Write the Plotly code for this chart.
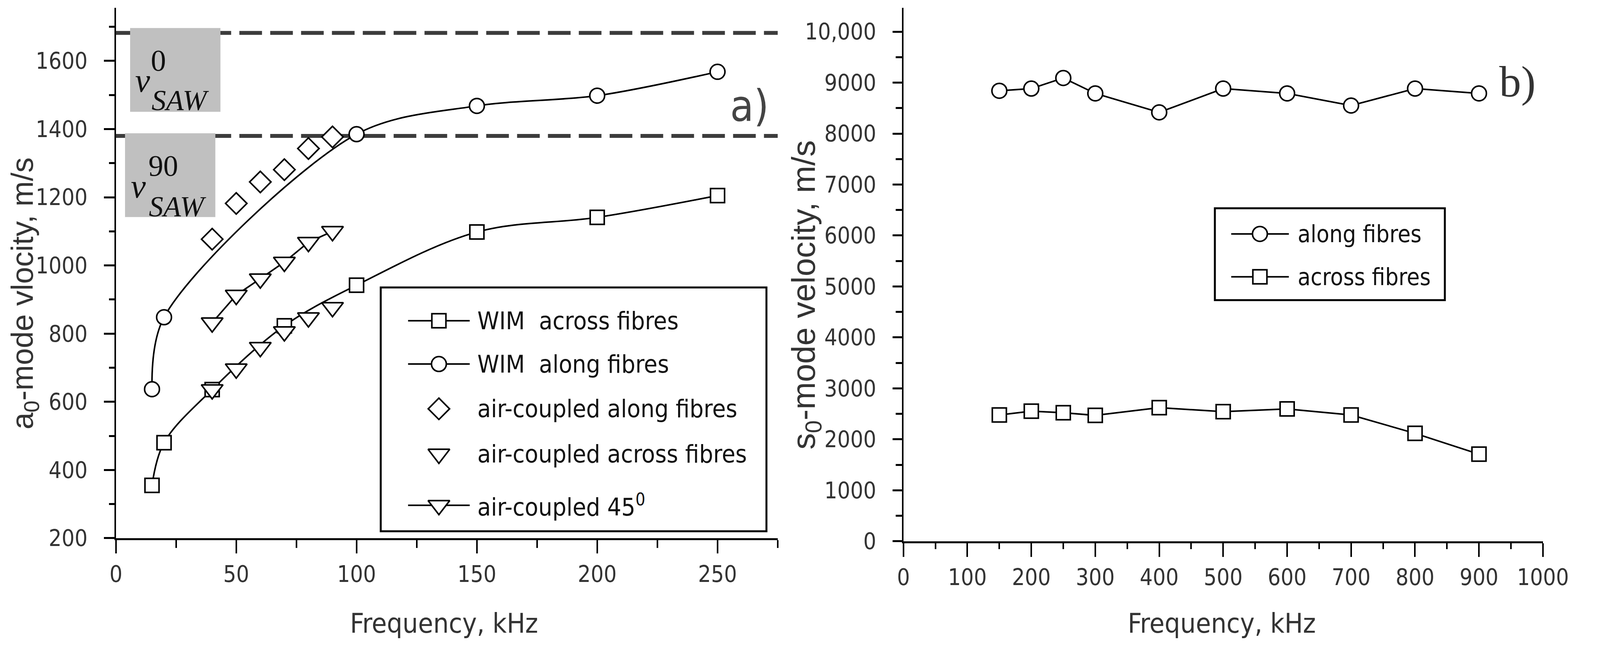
import plotly.graph_objects as go

# reference picture size; positions below are measured on it
W, H = 5814, 1695
# the page is laid out in the browser width, so map reference pixels to paper fractions
OX, OY, PW = 11, 8, 5825

# a0-mode, panel a)
freq_wim_across = [15, 20, 40, 70, 100, 150, 200, 250]
vel_wim_across = [355, 480, 636, 823, 942, 1098, 1141, 1205]
freq_wim_along = [15, 20, 100, 150, 200, 250]
vel_wim_along = [637, 848, 1385, 1468, 1498, 1568]
freq_air = [40, 50, 60, 70, 80, 90]
vel_air_along = [1077, 1182, 1245, 1281, 1343, 1377]
vel_air_across = [636, 697, 760, 806, 847, 877]
vel_air_45 = [832, 913, 961, 1010, 1068, 1100]
v_saw_0 = 1682
v_saw_90 = 1380

# s0-mode, panel b)
freq_s0 = [150, 200, 250, 300, 400, 500, 600, 700, 800, 900]
vel_s0_along = [8840, 8883, 9091, 8788, 8416, 8883, 8788, 8550, 8883, 8788]
vel_s0_across = [2478, 2552, 2522, 2470, 2622, 2543, 2596, 2478, 2117, 1709]

right_yticks = list(range(0, 10001, 1000))
right_yticktext = [str(v) for v in right_yticks[:-1]] + ["10,000"]

SANS = "Liberation Sans, Arial, sans-serif"
NARROW = "Liberation Sans Narrow, Arial Narrow, DejaVu Sans Condensed, sans-serif"
SERIF = "Liberation Serif, Times New Roman, serif"
TICKFONT = dict(family=NARROW, size=58, color="#333")

# plot areas in reference pixels
LX0, LX1, LY0, LY1 = 407, 2876, 20, 1406
RX0, RX1, RY0, RY1 = 3345, 5731, 20, 1414


def px(x):
    return (x - OX) / PW


def py(y):
    return 1 - (y - OY) / H


def xdom(a, b):
    return [px(a), px(b)]


def ydom(top, bottom):
    return [py(bottom), py(top)]


def xaxis(**kw):
    d = dict(showgrid=False, zeroline=False, showline=True, linecolor="black",
             linewidth=5, tickcolor="black", tickwidth=4, tickfont=TICKFONT)
    d.update(kw)
    return d


def yaxis(**kw):
    d = dict(showgrid=False, zeroline=False, showline=True, linecolor="black",
             linewidth=4, tickcolor="black", tickwidth=5, tickfont=TICKFONT)
    d.update(kw)
    return d


def minor(dt, ln, side="outside", w=4):
    return dict(dtick=dt, ticklen=ln, tickwidth=w, ticks=side, tickcolor="black")


fig = go.Figure()

mk = lambda sym, size: dict(symbol=sym, size=size, color="white",
                            line=dict(color="black", width=4))

SQ, CI, DI, TR = 36, 38, 42, 48

fig.add_trace(go.Scatter(x=freq_wim_across, y=vel_wim_across, mode="lines+markers",
                         line=dict(color="black", width=4, shape="spline"),
                         marker=mk("square", SQ)))
fig.add_trace(go.Scatter(x=freq_wim_along, y=vel_wim_along, mode="lines+markers",
                         line=dict(color="black", width=4, shape="spline", smoothing=0.9),
                         marker=mk("circle", CI)))
fig.add_trace(go.Scatter(x=freq_air, y=vel_air_along, mode="markers",
                         marker=mk("diamond", DI)))
fig.add_trace(go.Scatter(x=freq_air, y=vel_air_across, mode="markers",
                         marker=mk("triangle-down", TR)))
fig.add_trace(go.Scatter(x=freq_air, y=vel_air_45, mode="lines+markers",
                         line=dict(color="black", width=4),
                         marker=mk("triangle-down", TR)))

fig.add_trace(go.Scatter(x=freq_s0, y=vel_s0_along, mode="lines+markers",
                         xaxis="x2", yaxis="y2",
                         line=dict(color="black", width=4),
                         marker=mk("circle", CI)))
fig.add_trace(go.Scatter(x=freq_s0, y=vel_s0_across, mode="lines+markers",
                         xaxis="x2", yaxis="y2",
                         line=dict(color="black", width=4),
                         marker=mk("square", SQ)))

# legend keys drawn on a helper axis that spans the page in reference pixels
legend_a = [
    ("square", SQ, True, "WIM\u00a0\u00a0across fibres", 838),
    ("circle", CI, True, "WIM\u00a0\u00a0along fibres", 951),
    ("diamond", DI, False, "air-coupled along fibres", 1068),
    ("triangle-down", TR, False, "air-coupled across fibres", 1186),
    ("triangle-down", TR, True, "air-coupled 45<sup>0</sup>", 1320),
]
legend_b = [
    ("circle", CI, True, "along fibres", 611),
    ("square", SQ, True, "across fibres", 723),
]

annotations = []
for entries, mx, lx0, lx1, tx, fs in [(legend_a, 1612, 1497, 1727, 1752, 63),
                                      (legend_b, 4675, 4568, 4783, 4813, 60)]:
    for sym, size, has_line, label, ry in entries:
        if has_line:
            fig.add_trace(go.Scatter(x=[lx0, lx1], y=[ry, ry], mode="lines",
                                     xaxis="x5", yaxis="y5",
                                     line=dict(color="black", width=4)))
        fig.add_trace(go.Scatter(x=[mx], y=[ry], mode="markers",
                                 xaxis="x5", yaxis="y5", marker=mk(sym, size)))
        annotations.append(dict(x=px(tx), y=py(ry), xref="paper", yref="paper",
                                text=label, showarrow=False, xanchor="left",
                                yanchor="middle",
                                font=dict(family=NARROW, size=fs, color="#111")))

# axis titles
annotations += [
    dict(x=px(66), y=py(767), text="a<sub>0</sub>-mode vlocity, m/s", textangle=-90,
         font=dict(family=SANS, size=78, color="#333")),
    dict(x=px(2980), y=py(770), text="s<sub>0</sub>-mode velocity, m/s", textangle=-90,
         font=dict(family=SANS, size=84, color="#333")),
    dict(x=px(1632), y=py(1628), text="Frequency, kHz",
         font=dict(family=NARROW, size=70, color="#333")),
    dict(x=px(4533), y=py(1628), text="Frequency, kHz",
         font=dict(family=NARROW, size=70, color="#333")),
]
for a in annotations[-4:]:
    a.update(xref="paper", yref="paper", showarrow=False, xanchor="center",
             yanchor="middle")

# panel labels
annotations.append(dict(x=px(2770), y=py(276), xref="paper", yref="paper", text="a)",
                        showarrow=False, xanchor="center", yanchor="middle",
                        font=dict(family=NARROW, size=110, color="#444")))
annotations.append(dict(x=px(5635), y=py(213), xref="paper", yref="paper", text="b)",
                        showarrow=False, xanchor="center", yanchor="middle",
                        font=dict(family=SERIF, size=112, color="#333")))

# v_SAW labels
saw_labels = [
    ("0", 565, 157, 78, False), ("v", 507, 210, 86, True), ("SAW", 647, 262, 74, True),
    ("90", 584, 433, 76, False), ("v", 491, 487, 86, True), ("SAW", 637, 540, 74, True),
]
for txt, x, y, fs, it in saw_labels:
    annotations.append(dict(x=px(x), y=py(y), xref="paper", yref="paper",
                            text=f"<i>{txt}</i>" if it else txt, showarrow=False,
                            xanchor="center", yanchor="middle",
                            font=dict(family=SERIF, size=fs, color="#111")))

shapes = []
for v in [v_saw_0, v_saw_90]:
    shapes.append(dict(type="line", xref="x domain", yref="y", x0=0, x1=1, y0=v, y1=v,
                       line=dict(color="#3c3c3c", width=10, dash="58px,21px"),
                       layer="below"))
for bx0, bx1, by0, by1 in [(460, 797, 73, 292), (441, 778, 348, 567)]:
    shapes.append(dict(type="rect", xref="x domain", yref="y domain",
                       x0=(bx0 - LX0) / (LX1 - LX0), x1=(bx1 - LX0) / (LX1 - LX0),
                       y0=(LY1 - by1) / (LY1 - LY0), y1=(LY1 - by0) / (LY1 - LY0),
                       fillcolor="#c0c0c0", line=dict(width=0), layer="below"))
for bx0, bx1, by0, by1 in [(1395, 2834, 751, 1388), (4507, 5365, 544, 784)]:
    shapes.append(dict(type="rect", xref="x5", yref="y5", x0=bx0, x1=bx1, y0=by0, y1=by1,
                       fillcolor="white", line=dict(color="black", width=5), layer="below"))

fig.update_layout(
    height=H, autosize=True,
    margin=dict(l=0, r=0, t=0, b=0),
    paper_bgcolor="white", plot_bgcolor="rgba(0,0,0,0)",
    showlegend=False,
    xaxis=xaxis(domain=xdom(LX0, LX1), anchor="y", range=[0, 275], dtick=50, tick0=0,
                ticks="outside", ticklen=34, minor=minor(25, 20), ticklabelstandoff=3),
    yaxis=yaxis(domain=ydom(LY0, LY1), anchor="x", range=[200, 1756], dtick=200,
                tick0=200, ticks="outside", ticklen=27, minor=minor(100, 14, w=5),
                ticklabelstandoff=30),
    xaxis3=xaxis(overlaying="x", side="top", anchor="y", range=[0, 275], dtick=50, tick0=0,
                 ticks="inside", ticklen=26, minor=minor(25, 14, "inside"),
                 showticklabels=False),
    yaxis3=yaxis(overlaying="y", side="right", anchor="x", range=[200, 1756], dtick=100,
                 tick0=200, ticks="inside", ticklen=21, showticklabels=False),
    xaxis2=xaxis(domain=xdom(RX0, RX1), anchor="y2", range=[0, 1000.01], dtick=100, tick0=0,
                 ticks="outside", ticklen=35, minor=minor(50, 15), ticklabelstandoff=3),
    yaxis2=yaxis(domain=ydom(RY0, RY1), anchor="x2", range=[0, 10470], tickmode="array",
                 tickvals=right_yticks, ticktext=right_yticktext, ticks="outside",
                 ticklen=24, minor=dict(dtick=500, tick0=0, ticklen=16, tickwidth=5,
                                        ticks="outside", tickcolor="black"),
                 ticklabelstandoff=30),
    xaxis4=xaxis(overlaying="x2", side="top", anchor="y2", range=[0, 1000.01], dtick=100,
                 tick0=0, ticks="inside", ticklen=26, minor=minor(50, 16, "inside"),
                 showticklabels=False),
    yaxis4=yaxis(overlaying="y2", side="right", anchor="x2", range=[0, 10470], dtick=500,
                 tick0=0, ticks="inside", ticklen=22, showticklabels=False),
    xaxis5=dict(domain=[0, 1], anchor="y5", range=[OX, OX + PW], visible=False,
                fixedrange=True),
    yaxis5=dict(domain=[0, 1], anchor="x5", range=[OY + H, OY], visible=False,
                fixedrange=True),
    shapes=shapes,
    annotations=annotations,
)

# keep the page from growing scrollbars
no_scroll = ("document.documentElement.style.overflow='hidden';"
             "document.body.style.overflow='hidden';")
fig.write_html("out.html", config={"responsive": True}, post_script=no_scroll)
